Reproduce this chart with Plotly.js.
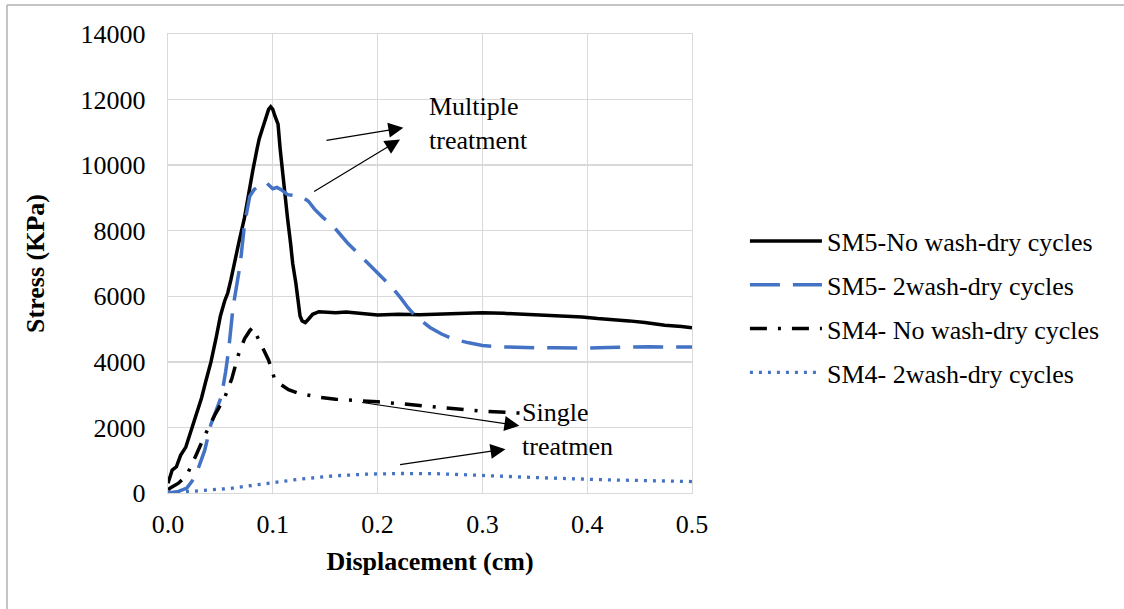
<!DOCTYPE html>
<html>
<head>
<meta charset="utf-8">
<script src="https://cdn.plot.ly/plotly-3.0.1.min.js"></script>
<style>html,body{margin:0;padding:0;background:#fff;}#chart{width:1124px;height:609px;}</style>
</head>
<body>
<div id="chart"></div>
<script>
// ---- Data ----
const seriesNames = ["SM5-No wash-dry cycles", "SM5- 2wash-dry cycles", "SM4- No wash-dry cycles", "SM4- 2wash-dry cycles"];

const sm5NoWashX = [0, 0.004, 0.008, 0.012, 0.017, 0.022, 0.027, 0.032, 0.036, 0.041, 0.046, 0.050, 0.054, 0.057, 0.060, 0.063, 0.068, 0.073, 0.077, 0.081, 0.085, 0.087, 0.090, 0.093, 0.096, 0.098, 0.100, 0.102, 0.105, 0.107, 0.109, 0.112, 0.114, 0.117, 0.119, 0.122, 0.124, 0.126, 0.128, 0.131, 0.134, 0.138, 0.144, 0.150, 0.160, 0.170, 0.180, 0.190, 0.200, 0.220, 0.240, 0.260, 0.280, 0.300, 0.320, 0.340, 0.360, 0.380, 0.395, 0.410, 0.427, 0.440, 0.455, 0.474, 0.490, 0.500];
const sm5NoWashY = [300, 700, 800, 1150, 1400, 1900, 2400, 2900, 3400, 4000, 4750, 5400, 5850, 6100, 6500, 7000, 7700, 8400, 9200, 9850, 10500, 10800, 11100, 11400, 11700, 11780, 11700, 11500, 11250, 10500, 9850, 9000, 8400, 7600, 7000, 6400, 5950, 5400, 5250, 5200, 5300, 5450, 5530, 5520, 5500, 5520, 5480, 5460, 5430, 5450, 5440, 5460, 5480, 5500, 5480, 5450, 5420, 5400, 5370, 5320, 5290, 5250, 5200, 5120, 5080, 5040];

const sm5WashX = [0, 0.010, 0.018, 0.025, 0.030, 0.035, 0.041, 0.046, 0.051, 0.055, 0.058, 0.062, 0.065, 0.069, 0.073, 0.078, 0.082, 0.086, 0.090, 0.094, 0.097, 0.100, 0.104, 0.108, 0.114, 0.120, 0.127, 0.134, 0.140, 0.148, 0.156, 0.164, 0.172, 0.180, 0.188, 0.200, 0.213, 0.222, 0.229, 0.236, 0.242, 0.250, 0.261, 0.272, 0.287, 0.300, 0.315, 0.331, 0.350, 0.370, 0.395, 0.420, 0.440, 0.459, 0.480, 0.500];
const sm5WashY = [0, 50, 150, 450, 850, 1300, 2100, 2500, 2950, 3700, 4400, 5650, 6300, 7000, 8200, 9050, 9250, 9350, 9450, 9460, 9350, 9280, 9320, 9250, 9100, 9070, 9050, 8900, 8650, 8400, 8200, 7900, 7600, 7350, 7100, 6700, 6300, 5950, 5650, 5400, 5250, 5050, 4850, 4700, 4580, 4500, 4460, 4440, 4430, 4430, 4420, 4440, 4460, 4460, 4450, 4450];

const sm4NoWashX = [0, 0.003, 0.010, 0.018, 0.026, 0.035, 0.045, 0.054, 0.061, 0.067, 0.073, 0.078, 0.081, 0.084, 0.088, 0.092, 0.096, 0.099, 0.102, 0.108, 0.115, 0.124, 0.134, 0.144, 0.160, 0.184, 0.200, 0.223, 0.248, 0.273, 0.298, 0.322, 0.345];
const sm4NoWashY = [100, 170, 300, 550, 1100, 1750, 2400, 2900, 3500, 4200, 4700, 4950, 5050, 4850, 4550, 4300, 4050, 3750, 3450, 3300, 3150, 3050, 2980, 2920, 2860, 2820, 2780, 2720, 2640, 2560, 2500, 2460, 2420];

const sm4WashX = [0, 0.026, 0.059, 0.092, 0.125, 0.157, 0.190, 0.223, 0.256, 0.289, 0.322, 0.355, 0.421, 0.460, 0.500];
const sm4WashY = [20, 60, 140, 270, 420, 520, 575, 595, 590, 550, 500, 465, 400, 370, 350];

const xTickVals = [0, 0.1, 0.2, 0.3, 0.4, 0.5];
const xTickText = ["0.0", "0.1", "0.2", "0.3", "0.4", "0.5"];
const yTickVals = [0, 2000, 4000, 6000, 8000, 10000, 12000, 14000];
const yTickText = ["0", "2000", "4000", "6000", "8000", "10000", "12000", "14000"];

const noteTexts = ["Multiple<br>treatment", "Single<br>treatmen"];
const notePos = [[0.247, 11270], [0.336, 1950]];
// arrows: [tailX, tailY, headX, headY]
const arrows = [
  [0.1498, 10750, 0.2246, 11140],
  [0.1380, 9170, 0.2214, 10780],
  [0.1838, 2766, 0.3353, 2052],
  [0.2200, 858, 0.3220, 1338]
];

// ---- Chart ----
const FONT = "'Liberation Serif', 'Times New Roman', serif";
const BLUE = "#4472C4";

const traces = [
  {x: sm5NoWashX, y: sm5NoWashY, name: seriesNames[0], legendgroup: "a", mode: "lines",
   line: {color: "#000000", width: 3.5}},
  {x: sm5WashX, y: sm5WashY, name: seriesNames[1], legendgroup: "b", mode: "lines",
   line: {color: BLUE, width: 3.5, dash: "30px,13px"}},
  {x: sm4NoWashX, y: sm4NoWashY, name: seriesNames[2], legendgroup: "c", mode: "lines",
   line: {color: "#000000", width: 3.5, dash: "17px,11px,3px,11px"}},
  {x: sm4WashX, y: sm4WashY, name: seriesNames[3], legendgroup: "d", mode: "lines",
   line: {color: BLUE, width: 3.3, dash: "3px,6px"}}
];

const annotations = [];
noteTexts.forEach((t, i) => {
  annotations.push({x: notePos[i][0], y: notePos[i][1], xref: "x", yref: "y", text: t,
    showarrow: false, xanchor: "left", yanchor: "middle", align: "left",
    font: {family: FONT, size: 26, color: "#000"}});
});
arrows.forEach(a => {
  annotations.push({x: a[2], y: a[3], ax: a[0], ay: a[1], xref: "x", yref: "y", axref: "x", ayref: "y",
    text: "", showarrow: true, arrowhead: 2, arrowsize: 2.5, arrowwidth: 1.2, arrowcolor: "#000"});
});

const layout = {
  width: 1124, height: 609,
  margin: {l: 168, r: 432, t: 34, b: 116},
  paper_bgcolor: "#ffffff", plot_bgcolor: "#ffffff",
  font: {family: FONT, size: 26, color: "#000"},
  showlegend: true,
  legend: {x: 1.101, xanchor: "left", y: 0.6, yanchor: "top", tracegroupgap: 7, itemwidth: 72,
    font: {family: FONT, size: 26, color: "#000"}, bgcolor: "rgba(0,0,0,0)"},
  xaxis: {range: [0, 0.5], tickvals: xTickVals, ticktext: xTickText, showgrid: true, gridcolor: "#d9d9d9", gridwidth: 1.3,
    zeroline: false, showline: true, mirror: true, linecolor: "#d9d9d9", linewidth: 1.3, ticks: "",
    ticklabelstandoff: 7,
    tickfont: {family: FONT, size: 26, color: "#000"},
    title: {text: "<b>Displacement (cm)</b>", font: {family: FONT, size: 26, color: "#000"}, standoff: 14}},
  yaxis: {range: [0, 14000], tickvals: yTickVals, ticktext: yTickText, showgrid: true, gridcolor: "#d9d9d9", gridwidth: 1.3,
    zeroline: false, showline: true, mirror: true, linecolor: "#d9d9d9", linewidth: 1.3, ticks: "",
    ticklabelstandoff: 16,
    tickfont: {family: FONT, size: 26, color: "#000"},
    title: {text: "<b>Stress (KPa)</b>", font: {family: FONT, size: 26, color: "#000"}, standoff: 28}},
  annotations: annotations,
  shapes: [
    {type: "line", xref: "paper", yref: "paper", x0: -0.3073, x1: -0.3073, y0: -0.26, y1: 1.0632, line: {color: "#b0b0b0", width: 1.5}},
    {type: "line", xref: "paper", yref: "paper", x0: -0.3073, x1: 1.83, y0: 1.0632, y1: 1.0632, line: {color: "#b0b0b0", width: 1.5}}
  ]
};

Plotly.newPlot("chart", traces, layout, {displayModeBar: false, staticPlot: true});
</script>
</body>
</html>
